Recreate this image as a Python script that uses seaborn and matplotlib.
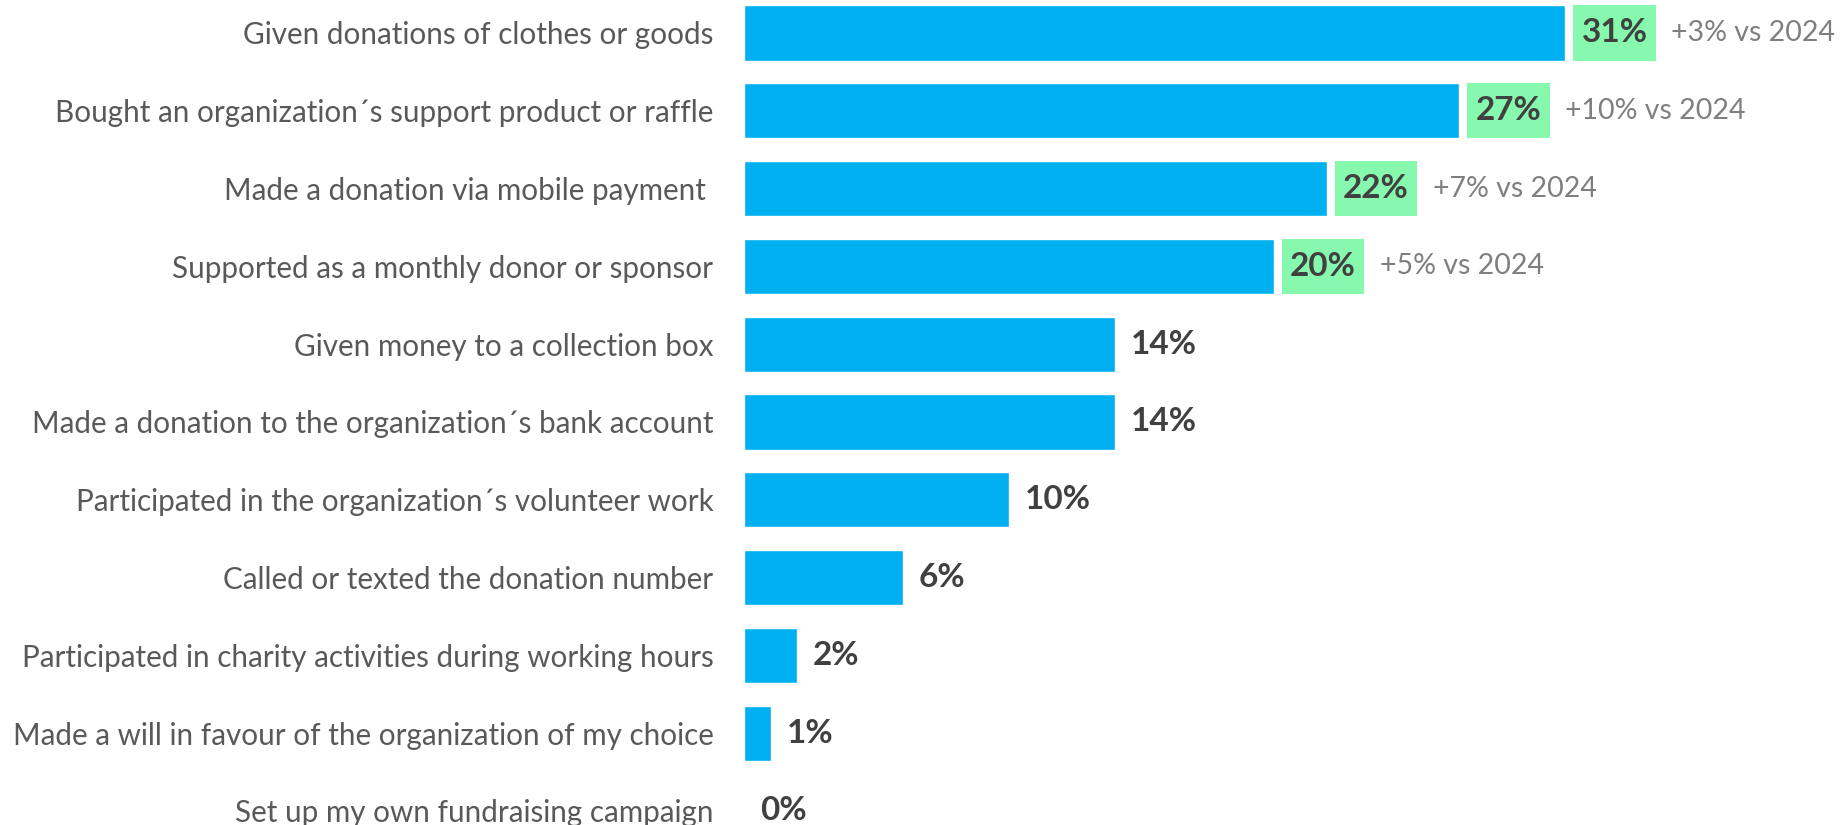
import matplotlib
matplotlib.use("Agg")
import matplotlib.pyplot as plt
from matplotlib.patches import Rectangle
import seaborn as sns
import pandas as pd

categories = [
    "Given donations of clothes or goods",
    "Bought an organization\u00b4s support product or raffle",
    "Made a donation via mobile payment ",
    "Supported as a monthly donor or sponsor",
    "Given money to a collection box",
    "Made a donation to the organization\u00b4s bank account",
    "Participated in the organization\u00b4s volunteer work",
    "Called or texted the donation number",
    "Participated in charity activities during working hours",
    "Made a will in favour of the organization of my choice",
    "Set up my own fundraising campaign",
]
shares = [31, 27, 22, 20, 14, 14, 10, 6, 2, 1, 0]
change_vs_2024 = [3, 10, 7, 5, None, None, None, None, None, None, None]
compare_year = 2024

df = pd.DataFrame({"activity": categories, "share": shares})

sns.set_theme(style="white")
plt.rcParams["font.family"] = ["Lato", "DejaVu Sans"]

fig = plt.figure(figsize=(18.49, 8.25), dpi=100)
ax = fig.add_axes([0.4024, 0.0, 0.5976, 1.0])

BAR_H = 0.71
sns.barplot(data=df, y="activity", x="share", orient="h", color="#00B0F0",
            width=BAR_H, saturation=1, ax=ax)

ax.set_xlim(0, 41.7)
ax.set_ylim(10.18, -0.424)
ax.set_xlabel("")
ax.set_ylabel("")
ax.set_xticks([])
ax.tick_params(axis="y", length=0, pad=22, labelsize=21.3, labelcolor="#595959")
for s in ax.spines.values():
    s.set_visible(False)

for i, (v, d) in enumerate(zip(shares, change_vs_2024)):
    label = f"{v}%"
    if d is not None:
        x0 = v + 0.3
        w = 3.1
        ax.add_patch(Rectangle((x0, i - BAR_H / 2), w, BAR_H,
                               facecolor="#86F9AE", edgecolor="none", zorder=3))
        ax.text(x0 + w / 2, i, label, ha="center", va="center",
                fontsize=24, fontweight="bold", color="#404040", zorder=4)
        ax.text(v + 4.0, i, f"+{d}% vs {compare_year}", ha="left", va="center",
                fontsize=20.5, color="#7F7F7F", zorder=4)
    else:
        ax.text(v + 0.6, i, label, ha="left", va="center",
                fontsize=24, fontweight="bold", color="#404040", zorder=4)

fig.savefig("out.png", dpi=100, facecolor="white")
